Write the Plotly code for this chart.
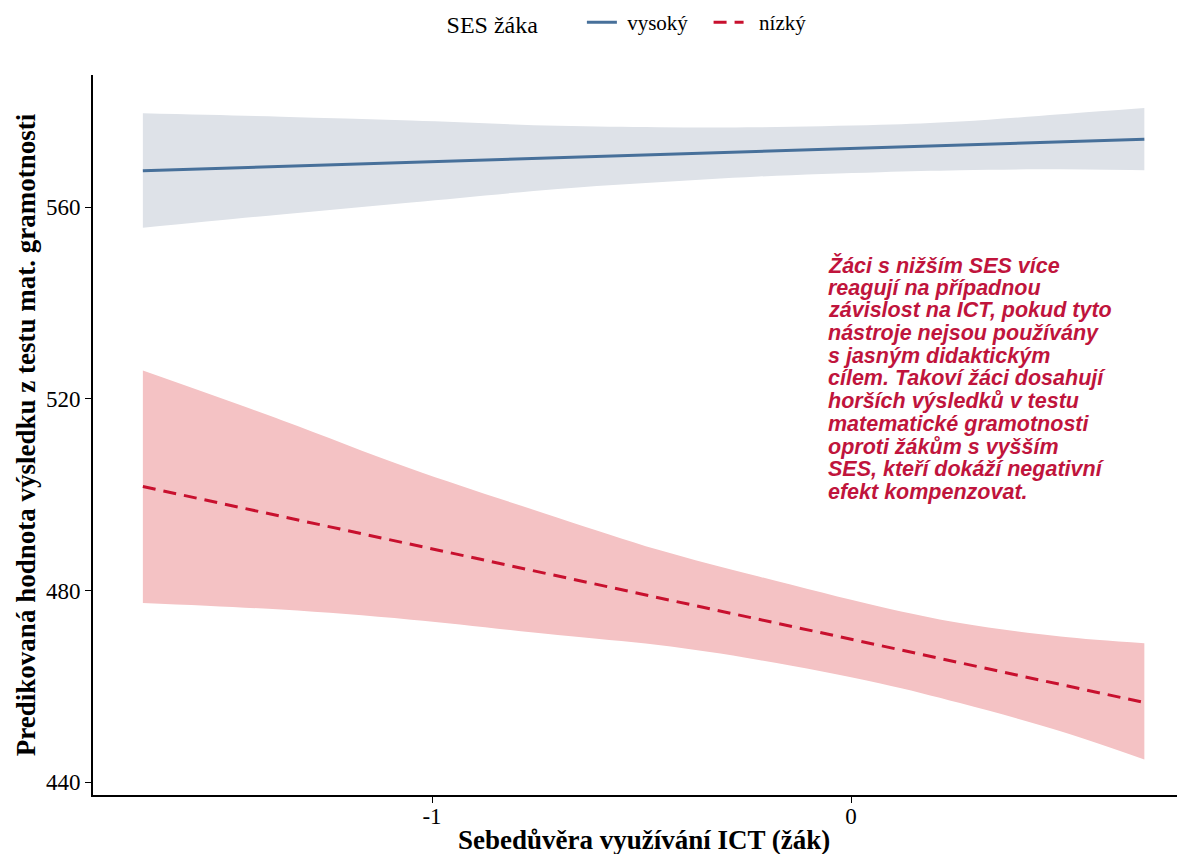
import plotly.graph_objects as go

# x grid (Sebedůvěra využívání ICT)
x_vals = [-1.69, -1.36, -1.05, -0.70, -0.46, -0.22, 0.07, 0.26, 0.50, 0.70]

# SES vysoký
hi_mean = [567.6, 568.5, 569.4, 570.3, 571.0, 571.7, 572.5, 573.0, 573.7, 574.2]
hi_upper = [579.6, 578.9, 578.1, 577.0, 576.7, 576.7, 577.2, 577.9, 579.4, 580.7]
hi_lower = [555.7, 558.5, 561.0, 563.8, 565.2, 566.4, 567.3, 567.7, 567.9, 567.7]

# SES nízký
lo_mean = [501.7, 495.5, 489.6, 483.0, 478.5, 474.0, 468.5, 464.9, 460.4, 456.6]
lo_upper = [525.9, 515.6, 505.4, 495.2, 488.5, 482.9, 476.6, 473.2, 470.4, 469.0]
lo_lower = [477.4, 476.0, 473.9, 470.7, 468.6, 465.5, 460.6, 456.5, 450.6, 444.7]

series_names = ["vysoký", "nízký"]
y_ticks = [440, 480, 520, 560]
x_ticks = [-1, 0]

annotation_lines = [
    "Žáci s nižším SES více",
    "reagují na případnou",
    "závislost na ICT, pokud tyto",
    "nástroje nejsou používány",
    "s jasným didaktickým",
    "cílem. Takoví žáci dosahují",
    "horších výsledků v testu",
    "matematické gramotnosti",
    "oproti žákům s vyšším",
    "SES, kteří dokáží negativní",
    "efekt kompenzovat.",
]

BLUE = "#47709A"
BLUE_FILL = "#DEE2E8"
RED = "#C8102E"
RED_FILL = "#F4C2C4"
SERIF = "Liberation Serif, Times New Roman, serif"
NBSP = "\u00a0"

# figure geometry (page body has an 8px margin)
FIG_W, FIG_H = 1177, 846
M_L, M_R, M_T, M_B = 85, 0, 67, 59
plot_h = FIG_H - M_T - M_B

fig = go.Figure()

# bands
fig.add_trace(go.Scatter(x=x_vals, y=hi_lower, mode="lines", line=dict(width=0, shape="spline"),
                         showlegend=False, hoverinfo="skip"))
fig.add_trace(go.Scatter(x=x_vals, y=hi_upper, mode="lines", line=dict(width=0, shape="spline"),
                         fill="tonexty", fillcolor=BLUE_FILL, showlegend=False, hoverinfo="skip"))
fig.add_trace(go.Scatter(x=x_vals, y=lo_lower, mode="lines", line=dict(width=0, shape="spline"),
                         showlegend=False, hoverinfo="skip"))
fig.add_trace(go.Scatter(x=x_vals, y=lo_upper, mode="lines", line=dict(width=0, shape="spline"),
                         fill="tonexty", fillcolor=RED_FILL, showlegend=False, hoverinfo="skip"))

# mean lines
fig.add_trace(go.Scatter(x=x_vals, y=hi_mean, mode="lines",
                         name=NBSP + series_names[0] + NBSP * 3,
                         line=dict(color=BLUE, width=3)))
fig.add_trace(go.Scatter(x=x_vals, y=lo_mean, mode="lines",
                         name=NBSP + NBSP + series_names[1],
                         line=dict(color=RED, width=3, dash="13px,8px")))

# annotation text, one line per annotation for tight line spacing
ann_top_px = 257.0
ann_step_px = 22.7
for i, line in enumerate(annotation_lines):
    py = ann_top_px + i * ann_step_px
    yp = (FIG_H - M_B - py) / plot_h
    fig.add_annotation(x=-0.06, y=yp, xref="x", yref="paper", xanchor="left", yanchor="middle",
                       text=line, showarrow=False, align="left",
                       font=dict(family="Liberation Sans, Arial, sans-serif", size=21.5,
                                 color="#C0143C", weight="bold", style="italic"))

# x-axis title
fig.add_annotation(x=0.5046, y=-(832 - (FIG_H - M_B)) / plot_h, xref="paper", yref="paper",
                   xanchor="center", yanchor="middle", showarrow=False,
                   text="<b>Sebedůvěra využívání ICT (žák)</b>",
                   font=dict(size=27, family=SERIF, color="black"))

fig.update_layout(
    width=FIG_W, height=FIG_H,
    margin=dict(l=M_L, r=M_R, t=M_T, b=M_B, autoexpand=False),
    plot_bgcolor="white", paper_bgcolor="white",
    font=dict(family=SERIF, color="black"),
    legend=dict(orientation="h", x=0.49, xanchor="center", y=1.043, yanchor="bottom",
                traceorder="normal",
                title=dict(text="SES žáka" + NBSP * 6, font=dict(size=24, family=SERIF)),
                font=dict(size=21, family=SERIF), itemwidth=30),
    xaxis=dict(range=[-1.809, 0.797], tickvals=x_ticks, ticktext=[str(v) for v in x_ticks],
               showgrid=False, zeroline=False, showline=True, linecolor="black", linewidth=2,
               ticks="outside", ticklen=6, tickcolor="black", tickwidth=1,
               tickfont=dict(size=23, family=SERIF), automargin=False,
               ticklabelstandoff=-7),
    yaxis=dict(range=[437.3, 587.6], tickvals=y_ticks,
               showgrid=False, zeroline=False, showline=True, linecolor="black", linewidth=2,
               ticks="outside", ticklen=6, tickcolor="black", tickwidth=1,
               tickfont=dict(size=23, family=SERIF), automargin=False,
               title=dict(text="<b>Predikovaná hodnota výsledku z testu mat. gramotnosti</b>",
                          standoff=2, font=dict(size=27, family=SERIF))),
)

fig.write_html("out.html")
